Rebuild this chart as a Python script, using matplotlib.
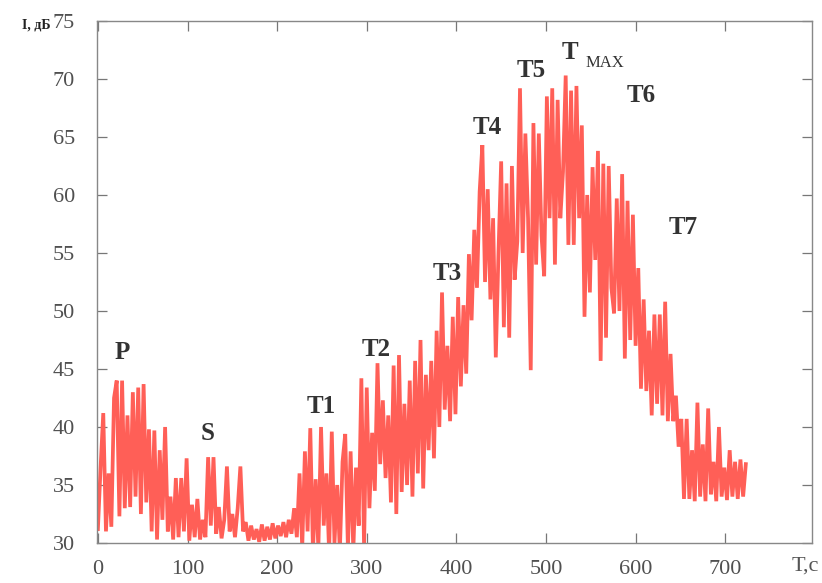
import numpy as np
import matplotlib
matplotlib.use("Agg")
import matplotlib.pyplot as plt

# Time axis (s), sampled every 3 s
time_s = list(range(0, 727, 3))

# Intensity (dB)
intensity_db = [
    31.2, 36.5, 41.2, 31.0, 36.0, 31.4, 42.5, 44.0, 32.3, 44.0,   # 0-27
    33.0, 41.0, 33.1, 43.0, 34.0, 43.4, 32.5, 43.7, 33.5, 39.8,   # 30-57
    31.0, 39.7, 30.3, 38.0, 32.0, 40.0, 31.0, 34.0, 30.3, 35.6,   # 60-87
    30.5, 35.6, 31.0, 37.3, 30.2, 33.3, 30.5, 33.8, 30.3, 32.0,   # 90-117
    30.5, 37.4, 31.5, 37.4, 30.8, 33.1, 30.4, 32.0, 36.6, 31.0,   # 120-147
    32.5, 30.5, 33.0, 36.6, 31.0, 31.8, 30.2, 31.5, 30.3, 31.2,   # 150-177
    30.1, 31.6, 30.2, 31.4, 30.3, 31.7, 30.4, 31.5, 30.6, 31.8,   # 180-207
    30.5, 32.0, 30.8, 33.0, 30.5, 36.0, 29.6, 37.9, 31.0, 39.9,   # 210-237
    29.3, 35.5, 29.5, 40.0, 31.5, 36.0, 29.2, 39.6, 30.0, 35.0,   # 240-267
    29.3, 37.0, 39.4, 29.5, 37.9, 29.3, 36.5, 31.5, 44.2, 29.7,   # 270-297
    43.4, 33.0, 39.5, 34.5, 45.5, 36.8, 42.3, 35.6, 41.0, 33.5,   # 300-327
    45.3, 32.5, 46.2, 34.4, 42.0, 35.0, 44.0, 34.0, 45.7, 36.0,   # 330-357
    47.5, 34.7, 44.5, 38.0, 45.7, 37.3, 48.3, 40.0, 51.6, 41.5,   # 360-387
    47.0, 40.5, 49.5, 41.1, 51.2, 43.5, 50.5, 44.6, 54.9, 49.2,   # 390-417
    57.0, 52.0, 60.3, 64.3, 52.5, 60.5, 51.0, 58.0, 46.0, 55.0,   # 420-447
    62.9, 48.6, 61.0, 47.7, 62.5, 52.7, 56.0, 69.2, 55.0, 65.3,   # 450-477
    58.0, 44.9, 66.2, 54.0, 65.3, 56.5, 53.0, 68.5, 58.0, 69.2,   # 480-507
    54.0, 68.2, 58.0, 62.0, 70.3, 55.7, 69.0, 55.7, 69.4, 58.0,   # 510-537
    66.0, 49.5, 60.0, 51.6, 62.4, 54.4, 63.8, 45.7, 62.7, 47.7,   # 540-567
    62.5, 52.0, 49.8, 59.7, 50.0, 61.8, 45.9, 59.5, 47.5, 58.3,   # 570-597
    47.0, 53.7, 43.3, 51.0, 43.1, 48.3, 41.0, 49.7, 42.0, 49.7,   # 600-627
    41.0, 50.8, 40.5, 46.3, 40.5, 42.7, 38.3, 40.7, 33.8, 40.7,   # 630-657
    33.8, 38.0, 33.6, 42.1, 34.0, 38.5, 33.6, 41.6, 34.2, 37.0,   # 660-687
    33.6, 40.0, 34.0, 36.5, 33.7, 38.0, 34.0, 37.0, 33.8, 37.2,   # 690-717
    34.0, 36.8,                                                   # 720-726
]
time_s = time_s[:len(intensity_db)]

x_ticks = [0, 100, 200, 300, 400, 500, 600, 700]
y_ticks = [30, 35, 40, 45, 50, 55, 60, 65, 70, 75]

labels = ["P", "S", "T1", "T2", "T3", "T4", "T5", "T6", "T7"]
label_t = [27, 123, 249, 310, 390, 434, 483, 606, 653]
label_i = [46.4, 39.4, 41.8, 46.7, 53.2, 65.8, 70.7, 68.6, 57.2]

serif = ["Liberation Serif", "DejaVu Serif"]

fig = plt.figure(figsize=(8.22, 5.83), dpi=100)
ax = fig.add_axes([0.118, 0.0686, 0.870, 0.8954])

ax.plot(time_s, intensity_db, color="#ff5f57", lw=2.7, solid_joinstyle="miter")

ax.set_xlim(-1, 797)
ax.set_ylim(30, 75)
ax.set_xticks(x_ticks)
ax.set_yticks(y_ticks)
ax.tick_params(axis="both", direction="in", length=7, width=0.9, color="#777777",
               top=True, right=True, labelsize=16, labelcolor="#505050")
ax.tick_params(axis="y", pad=16)
ax.tick_params(axis="x", pad=12)
for lab in ax.get_xticklabels() + ax.get_yticklabels():
    lab.set_family(serif)
for sp in ax.spines.values():
    sp.set_color("#888888")
    sp.set_linewidth(1.0)

for t, i, s in zip(label_t, label_i, labels):
    ax.text(t, i, s, ha="center", va="center", fontsize=18, fontweight="bold",
            family=serif, color="#333333")
# T_MAX
ax.text(527, 72.3, "T", ha="center", va="center", fontsize=18, fontweight="bold",
        family=serif, color="#333333")
ax.text(566, 71.4, "MAX", ha="center", va="center", fontsize=12,
        family=serif, color="#333333")

fig.text(22 / 822, 1 - 25 / 583, "I, дБ", ha="left", va="center", fontsize=10,
         fontweight="bold", family=serif, color="#222222")
fig.text(805 / 822, 1 - 566 / 583, "T,c", ha="center", va="center", fontsize=16,
         family=serif, color="#555555")

fig.savefig("out.png", dpi=100)
